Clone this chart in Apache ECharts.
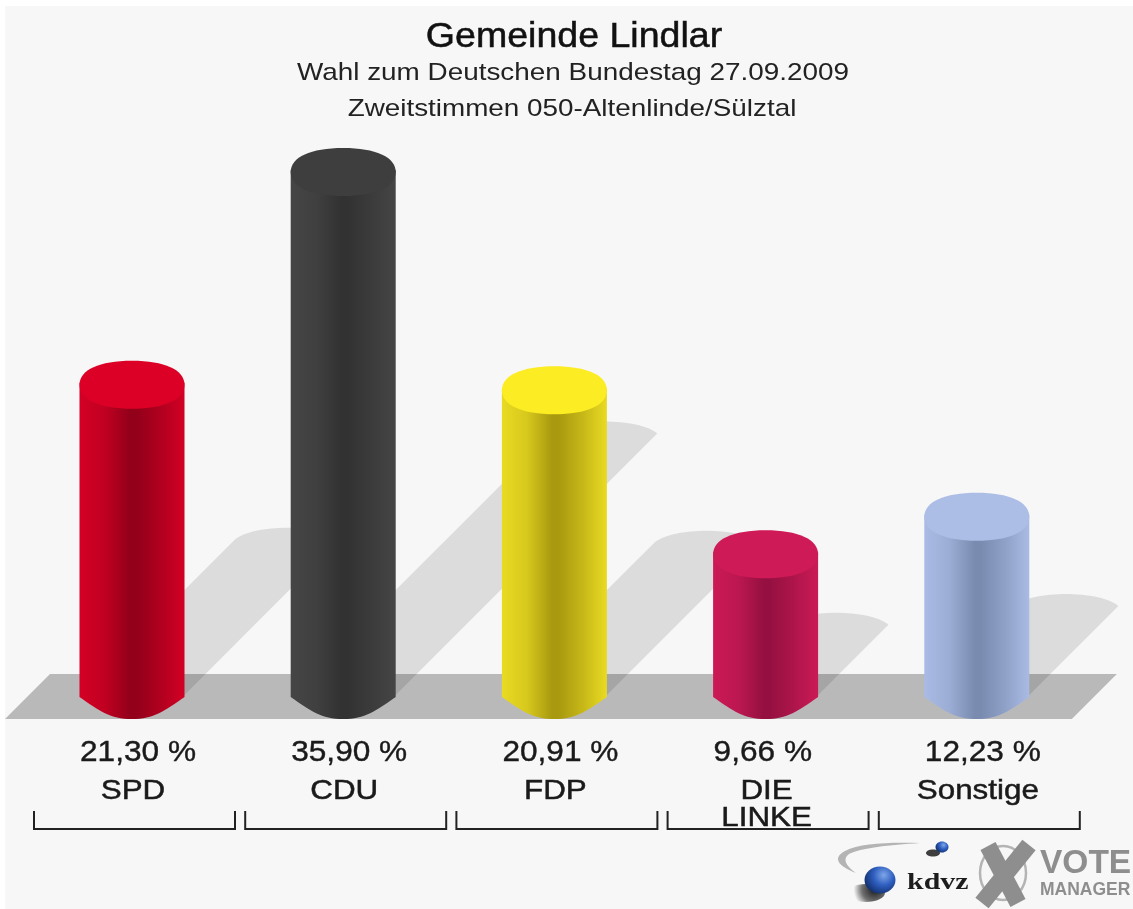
<!DOCTYPE html>
<html>
<head>
<meta charset="utf-8">
<style>html,body{margin:0;padding:0;background:#fff}#c{width:1133px;height:909px}</style>
<script src="https://cdn.jsdelivr.net/npm/echarts@6/dist/echarts.min.js"></script>
</head>
<body>
<div id="c"></div>
<script>
const categories = ['SPD', 'CDU', 'FDP', 'DIE\nLINKE', 'Sonstige'];
const shares = [21.30, 35.90, 20.91, 9.66, 12.23];
const shareLabels = ['21,30 %', '35,90 %', '20,91 %', '9,66 %', '12,23 %'];
const topColors = ['#dc0026', '#3e3e3e', '#fcec24', '#cf1a58', '#acbde6'];
const edgeColors = ['#d30024', '#454545', '#e9da22', '#cb1a56', '#a9bae4'];
const darkColors = ['#92001a', '#323232', '#a8990f', '#951040', '#7a8bb0'];
const titleLines = ['Gemeinde Lindlar', 'Wahl zum Deutschen Bundestag 27.09.2009', 'Zweitstimmen 050-Altenlinde/Sülztal'];

const FONT = '"Liberation Sans", Arial, sans-serif';
const RX = 52.5, RY = 24, INK = '#1a1a1a';

function hex(c) { return [1, 3, 5].map(i => parseInt(c.substr(i, 2), 16)); }
function mix(a, b, t) {
  const A = hex(a), B = hex(b);
  return 'rgb(' + A.map((v, i) => Math.round(v + (B[i] - v) * t)).join(',') + ')';
}

const chart = echarts.init(document.getElementById('c'), null, { renderer: 'canvas' });
const points = shares.map((v, i) => [i, v]);

function floorItem(params, api) {
  if (params.dataIndex !== 0) return null;
  const a = api.coord([0, 0]), b = api.coord([categories.length - 1, 0]);
  return {
    type: 'polygon',
    shape: { points: [[a[0] - 127, a[1] + 24], [a[0] - 82, a[1] - 21], [b[0] + 140, b[1] - 21], [b[0] + 95, b[1] + 24]] },
    style: { fill: '#b9b9b9' }
  };
}

function shadowItem(params, api) {
  const base = api.coord([api.value(0), 0]);
  const top = api.coord([api.value(0), api.value(1)]);
  const s = (base[1] - top[1]) * 0.5;
  const cx = base[0], y = base[1], x0 = cx - RX, x1 = cx + RX;
  const tx0 = x0 + s, tx1 = x1 + s, ty = y - s;
  const d = 'M' + x0 + ' ' + y + ' L' + tx0 + ' ' + ty +
    ' C' + (tx0 + 18) + ' ' + (ty - 16) + ' ' + (tx1 - 18) + ' ' + (ty - 16) + ' ' + tx1 + ' ' + ty +
    ' L' + x1 + ' ' + y + ' Z';
  return { type: 'path', shape: { pathData: d }, style: { fill: 'rgba(0,0,0,0.105)' } };
}

function cylinderItem(params, api) {
  const i = params.dataIndex;
  const base = api.coord([api.value(0), 0]);
  const top = api.coord([api.value(0), api.value(1)]);
  const cx = base[0], x0 = cx - RX, x1 = cx + RX, by = base[1], ty = top[1];
  const side = 'M' + x0 + ' ' + (ty - 2) + ' L' + x0 + ' ' + (by + 2) +
    ' C' + (x0 + 20) + ' ' + (by + 16) + ' ' + (cx - 22) + ' ' + (by + RY) + ' ' + cx + ' ' + (by + RY) +
    ' C' + (cx + 22) + ' ' + (by + RY) + ' ' + (x1 - 20) + ' ' + (by + 16) + ' ' + x1 + ' ' + (by + 2) +
    ' L' + x1 + ' ' + (ty - 2) + ' Z';
  const kx = RX * 0.62, ky = RY * 0.62;
  const cap = 'M' + x0 + ' ' + ty +
    ' C' + x0 + ' ' + (ty - ky) + ' ' + (cx - kx) + ' ' + (ty - RY) + ' ' + cx + ' ' + (ty - RY) +
    ' C' + (cx + kx) + ' ' + (ty - RY) + ' ' + x1 + ' ' + (ty - ky) + ' ' + x1 + ' ' + ty +
    ' C' + x1 + ' ' + (ty + ky) + ' ' + (cx + kx) + ' ' + (ty + RY) + ' ' + cx + ' ' + (ty + RY) +
    ' C' + (cx - kx) + ' ' + (ty + RY) + ' ' + x0 + ' ' + (ty + ky) + ' ' + x0 + ' ' + ty + ' Z';
  const e = edgeColors[i], k = darkColors[i];
  const grad = new echarts.graphic.LinearGradient(0, 0, 1, 0, [
    { offset: 0, color: e },
    { offset: 0.24, color: mix(e, k, 0.28) },
    { offset: 0.48, color: k },
    { offset: 0.54, color: k },
    { offset: 0.76, color: mix(e, k, 0.55) },
    { offset: 1, color: e }
  ]);
  return {
    type: 'group',
    children: [
      { type: 'path', shape: { pathData: side }, style: { fill: grad } },
      { type: 'path', shape: { pathData: cap }, style: { fill: topColors[i] } }
    ]
  };
}

function shareItem(params, api) {
  const base = api.coord([api.value(0), 0]);
  return {
    type: 'text',
    x: base[0] - 52, y: 753, scaleX: 1.09,
    style: {
      text: shareLabels[params.dataIndex], fill: INK,
      font: '29px ' + FONT, textAlign: 'left', textVerticalAlign: 'middle',
      stroke: INK, lineWidth: 0.4
    }
  };
}

function nameItem(params, api) {
  const base = api.coord([api.value(0), 0]);
  return {
    type: 'text',
    x: base[0] + 1, y: 778, scaleX: 1.12,
    style: {
      text: categories[params.dataIndex], fill: INK,
      font: '28px ' + FONT, lineHeight: 27, textAlign: 'center', textVerticalAlign: 'top',
      stroke: INK, lineWidth: 0.5
    }
  };
}

function bracketItem(params, api) {
  const c = api.coord([api.value(0), 0])[0];
  return {
    type: 'polyline',
    shape: { points: [[c - 98, 811], [c - 98, 829], [c + 103, 829], [c + 103, 811]] },
    style: { fill: null, stroke: '#222', lineWidth: 2 }
  };
}

function swooshItem(params) {
  if (params.dataIndex !== 0) return null;
  return {
    type: 'path',
    shape: { pathData: 'M856 873 C838 866 832 858 845 851 C860 843 890 842 920 843 C890 845 860 848 849 854 C842 859 846 866 856 873 Z' },
    style: { fill: '#b4b4b4' }
  };
}

const xy = { x: 0, y: 1 };
const LOGO_GREY = '#8e8e8e';
const ball = new echarts.graphic.RadialGradient(0.62, 0.32, 0.75, [
  { offset: 0, color: '#7fa6e8' }, { offset: 0.5, color: '#2f5fc0' }, { offset: 1, color: '#12306f' }
]);
const blob = new echarts.graphic.RadialGradient(0.72, 0.3, 1.15, [
  { offset: 0, color: 'rgba(0,0,0,0.9)' }, { offset: 0.6, color: 'rgba(0,0,0,0.55)' }, { offset: 1, color: 'rgba(0,0,0,0)' }
]);

chart.setOption({
  animation: false,
  backgroundColor: '#ffffff',
  grid: { left: 26.4, width: 1056, top: 112.2, height: 582.8, containLabel: false },
  xAxis: {
    type: 'category', data: categories,
    axisLine: { show: false }, axisTick: { show: false }, splitLine: { show: false }, axisLabel: { show: false }
  },
  yAxis: { type: 'value', min: 0, max: 40, show: false },
  series: [
    { type: 'custom', name: 'floor', data: points, encode: xy, renderItem: floorItem, silent: true, z: 1 },
    { type: 'custom', name: 'shadow', data: points, encode: xy, renderItem: shadowItem, silent: true, z: 2 },
    { type: 'custom', name: 'Zweitstimmen', data: points, encode: xy, renderItem: cylinderItem, z: 3 },
    { type: 'custom', name: 'share', data: points, encode: xy, renderItem: shareItem, z: 4 },
    { type: 'custom', name: 'name', data: points, encode: xy, renderItem: nameItem, z: 4 },
    { type: 'custom', name: 'bracket', data: points, encode: xy, renderItem: bracketItem, z: 4 },
    { type: 'custom', name: 'swoosh', data: points, encode: xy, renderItem: swooshItem, silent: true, z: 4 }
  ],
  graphic: [
    { type: 'rect', z: -10, shape: { x: 5, y: 6, width: 1128, height: 903 }, style: { fill: '#f7f7f7' } },
    { type: 'text', z: 5, x: 574, y: 37, scaleX: 1.088,
      style: { text: titleLines[0], font: '34.5px ' + FONT, fill: '#111', stroke: '#111', lineWidth: 0.5, textAlign: 'center', textVerticalAlign: 'middle' } },
    { type: 'text', z: 5, x: 573, y: 73, scaleX: 1.124,
      style: { text: titleLines[1], font: '24.8px ' + FONT, fill: '#222', textAlign: 'center', textVerticalAlign: 'middle' } },
    { type: 'text', z: 5, x: 572, y: 109, scaleX: 1.16,
      style: { text: titleLines[2], font: '24px ' + FONT, fill: '#222', textAlign: 'center', textVerticalAlign: 'middle' } },
    { type: 'ellipse', z: 5, shape: { cx: 933, cy: 853, rx: 7, ry: 3.5 }, style: { fill: 'rgba(0,0,0,0.75)' } },
    { type: 'ellipse', z: 5, shape: { cx: 942, cy: 847, rx: 6.5, ry: 5.5 }, style: { fill: ball } },
    { type: 'ellipse', z: 5, shape: { cx: 866, cy: 893, rx: 19, ry: 9 }, style: { fill: blob } },
    { type: 'ellipse', z: 5, shape: { cx: 880, cy: 880, rx: 15.5, ry: 13.5 }, style: { fill: ball } },
    { type: 'text', z: 5, x: 907, y: 883, scaleX: 1.3,
      style: { text: 'kdvz', font: 'bold 23px "Liberation Serif", serif', fill: '#1c1c1c', textAlign: 'left', textVerticalAlign: 'middle' } },
    { type: 'ellipse', z: 5, shape: { cx: 1003, cy: 873, rx: 23, ry: 27 }, style: { fill: null, stroke: '#b4b4b4', lineWidth: 2.5 } },
    { type: 'line', z: 5, shape: { x1: 988, y1: 846, x2: 1018, y2: 903 }, style: { stroke: LOGO_GREY, lineWidth: 17 } },
    { type: 'line', z: 5, shape: { x1: 1029, y1: 845, x2: 982, y2: 903 }, style: { stroke: LOGO_GREY, lineWidth: 17 } },
    { type: 'text', z: 5, x: 1040, y: 864,
      style: { text: 'VOTE', font: 'bold 33.5px ' + FONT, fill: LOGO_GREY, textAlign: 'left', textVerticalAlign: 'middle' } },
    { type: 'text', z: 5, x: 1040, y: 890,
      style: { text: 'MANAGER', font: 'bold 17.5px ' + FONT, fill: LOGO_GREY, textAlign: 'left', textVerticalAlign: 'middle' } }
  ]
});
</script>
</body>
</html>
